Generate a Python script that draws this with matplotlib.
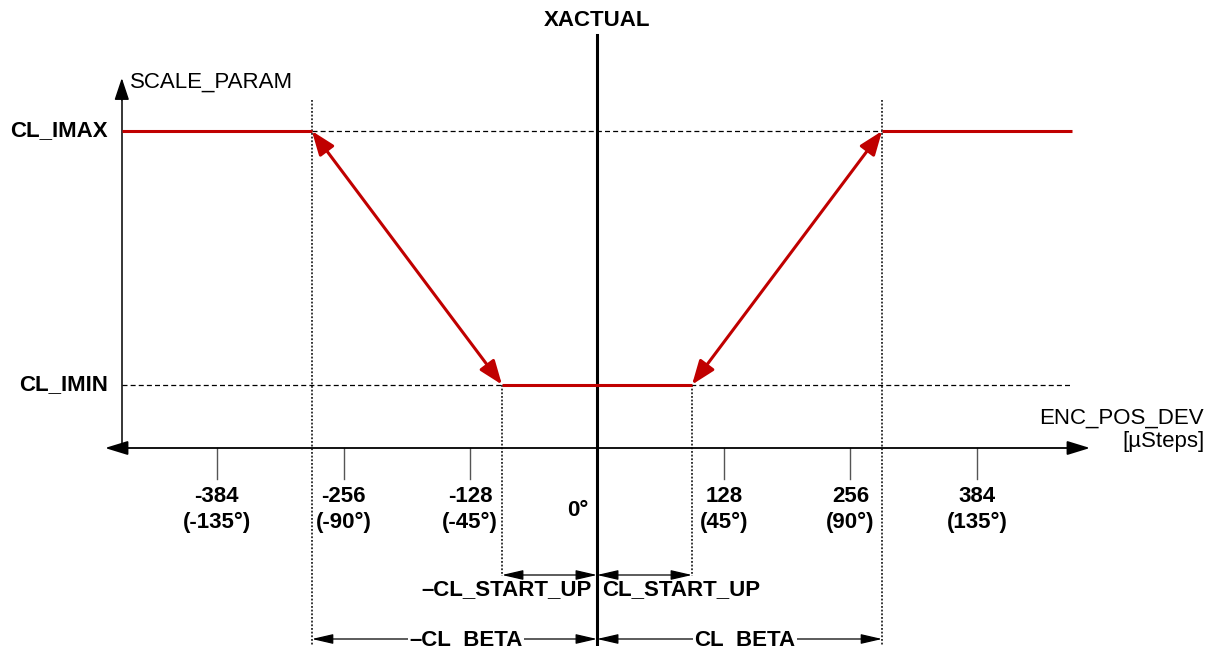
import matplotlib
matplotlib.use("Agg")
import matplotlib.pyplot as plt
from matplotlib.patches import ArrowStyle

plt.rcParams['font.family'] = ['Liberation Sans', 'DejaVu Sans']

# encoder deviation in microsteps, with the matching angle
tick_steps = [-384, -256, -128, 128, 256, 384]
tick_degs = ['(-135°)', '(-90°)', '(-45°)', '(45°)', '(90°)', '(135°)']

cl_beta = 288
cl_start_up = 96
cl_imin = 1
cl_imax = 5
x_span = 480

# scale parameter vs. position deviation
curve_x = [-x_span, -cl_beta, -cl_start_up, cl_start_up, cl_beta, x_span]
curve_y = [cl_imax, cl_imax, cl_imin, cl_imin, cl_imax, cl_imax]

RED = '#c00000'
BLACK = '#000000'
FS = 16

W, H = 1217, 646
fig = plt.figure(figsize=(W / 100, H / 100), dpi=100)
ax = fig.add_axes([0, 0, 1, 1])
ax.axis('off')

# map: 0 steps at x=597px, ~0.99 px per step; y=0 at 448px, 63.4 px per unit
sx, x0 = 0.99, 597
sy, y0 = 63.4, 448
ax.set_xlim(-x0 / sx, (W - x0) / sx)
ax.set_ylim(-(H - y0) / sy, y0 / sy)


def px_x(p):
    return (p - x0) / sx


def px_y(p):
    return (y0 - p) / sy


def arrow(xa, ya, xb, yb, style, color, lw, hl, hw, z=3):
    ax.annotate('', xy=(xb, yb), xytext=(xa, ya),
                arrowprops=dict(arrowstyle=ArrowStyle(style, head_length=hl, head_width=hw),
                                color=color, lw=lw, shrinkA=0, shrinkB=0,
                                mutation_scale=1),
                zorder=z)


dash_h = dict(color=BLACK, lw=0.9, ls=(0, (4, 2.5)), zorder=1)
dot_v = dict(color=BLACK, lw=1.1, ls=(0, (1.2, 1.2)), zorder=1)

# guide lines
ax.plot([-cl_beta, cl_beta], [cl_imax, cl_imax], **dash_h)
ax.plot([-x_span, x_span], [cl_imin, cl_imin], **dash_h)
for s in (-1, 1):
    ax.plot([s * cl_beta] * 2, [px_y(100), px_y(H)], **dot_v)
    ax.plot([s * cl_start_up] * 2, [cl_imin, px_y(576)], **dot_v)

# axes
ax.plot([-x_span, -x_span], [0, px_y(100)], color=BLACK, lw=1.1, zorder=2)
arrow(-x_span, px_y(100), -x_span, px_y(78), '-|>', BLACK, 1.1, 13.5, 4.5)
arrow(px_x(105), 0, px_x(1090), 0, '<|-|>', BLACK, 1.3, 14, 4.3)
ax.plot([0, 0], [px_y(35), px_y(H)], color=BLACK, lw=2.2, zorder=4)

# ticks
for t, d in zip(tick_steps, tick_degs):
    ax.plot([t, t], [0, px_y(479)], color='#555555', lw=1.0, zorder=2)
    ax.text(t, px_y(497), f'{t}', ha='center', va='center',
            fontsize=FS, fontweight='bold')
    ax.text(t, px_y(522), d, ha='center', va='center',
            fontsize=FS, fontweight='bold')
ax.text(px_x(578), px_y(510), '0°', ha='center', va='center',
        fontsize=FS, fontweight='bold')

# red characteristic
for i in (0, 2, 4):
    ax.plot(curve_x[i:i + 2], curve_y[i:i + 2], color=RED, lw=2.2, zorder=5,
            solid_capstyle='butt')
arrow(curve_x[1], curve_y[1], curve_x[2], curve_y[2], '<|-|>', RED, 2.2, 14.5, 5.5, z=5)
arrow(curve_x[3], curve_y[3], curve_x[4], curve_y[4], '<|-|>', RED, 2.2, 14.5, 5.5, z=5)

# dimension arrows
ys = px_y(575)
arrow(-cl_start_up, ys, 0, ys, '<|-|>', BLACK, 0.9, 13, 3)
arrow(0, ys, cl_start_up, ys, '<|-|>', BLACK, 0.9, 13, 3)
yb = px_y(639)
arrow(-cl_beta, yb, 0, yb, '<|-|>', BLACK, 0.9, 13, 3)
arrow(0, yb, cl_beta, yb, '<|-|>', BLACK, 0.9, 13, 3)

# labels
bold = dict(fontsize=FS, fontweight='bold')
ax.text(px_x(108), cl_imax, 'CL_IMAX', ha='right', va='center', **bold)
ax.text(px_x(108), cl_imin, 'CL_IMIN', ha='right', va='center', **bold)
ax.text(0, px_y(21), 'XACTUAL', ha='center', va='center', **bold)
ax.text(px_x(130), px_y(82), 'SCALE_PARAM', ha='left', va='center', fontsize=FS)
ax.text(px_x(1204), px_y(418), 'ENC_POS_DEV', ha='right', va='center', fontsize=FS)
ax.text(px_x(1205), px_y(441), '[µSteps]', ha='right', va='center', fontsize=FS)
ax.text(px_x(592), px_y(590), '–CL_START_UP', ha='right', va='center', **bold)
ax.text(px_x(602), px_y(590), 'CL_START_UP', ha='left', va='center', **bold)
box = dict(facecolor='white', edgecolor='none', pad=1)
ax.text(px_x(466), px_y(640), '–CL_BETA', ha='center', va='center', bbox=box, zorder=6, **bold)
ax.text(px_x(745), px_y(640), 'CL_BETA', ha='center', va='center', bbox=box, zorder=6, **bold)

fig.savefig('out.png', dpi=100, facecolor='white')
